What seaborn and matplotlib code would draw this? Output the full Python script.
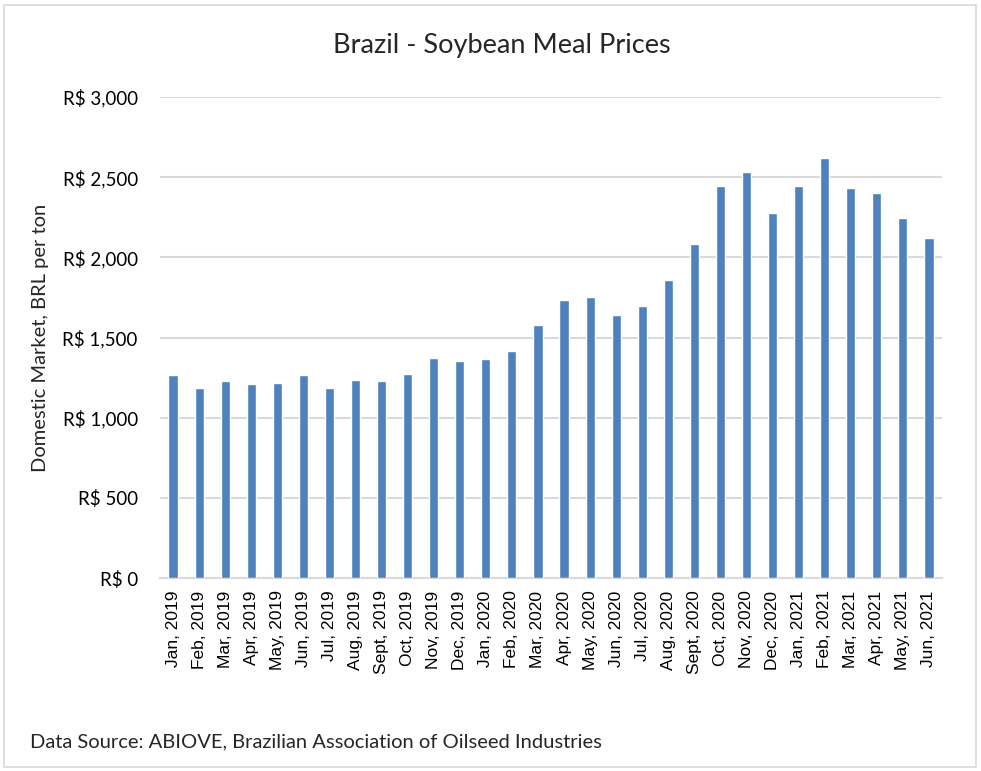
import matplotlib
matplotlib.use("Agg")
import matplotlib.pyplot as plt
import seaborn as sns
import pandas as pd
from matplotlib.ticker import FuncFormatter, MultipleLocator
from matplotlib.patches import Rectangle

months = ["Jan, 2019", "Feb, 2019", "Mar, 2019", "Apr, 2019", "May, 2019", "Jun, 2019",
          "Jul, 2019", "Aug, 2019", "Sept, 2019", "Oct, 2019", "Nov, 2019", "Dec, 2019",
          "Jan, 2020", "Feb, 2020", "Mar, 2020", "Apr, 2020", "May, 2020", "Jun, 2020",
          "Jul, 2020", "Aug, 2020", "Sept, 2020", "Oct, 2020", "Nov, 2020", "Dec, 2020",
          "Jan, 2021", "Feb, 2021", "Mar, 2021", "Apr, 2021", "May, 2021", "Jun, 2021"]
prices = [1265, 1186, 1227, 1212, 1219, 1265, 1186, 1233, 1227, 1271, 1373, 1352,
          1367, 1418, 1579, 1737, 1752, 1643, 1698, 1858, 2085, 2444, 2531, 2277,
          2444, 2619, 2431, 2404, 2246, 2119]

title = "Brazil - Soybean Meal Prices"
ylabel = "Domestic Market, BRL per ton"
source = "Data Source: ABIOVE, Brazilian Association of Oilseed Industries"

df = pd.DataFrame({"month": months, "price": prices})

sns.set_theme(style="white")
plt.rcParams["font.family"] = ["Lato", "DejaVu Sans"]

fig = plt.figure(figsize=(9.81, 7.71), dpi=100)
ax = fig.add_axes([160/981, 1-578/771, 782/981, (578-97)/771])

sns.barplot(data=df, x="month", y="price", order=months, color="#4F81BD",
            width=0.35, saturation=1, ax=ax, zorder=3)

ax.set_ylim(0, 3000)
ax.set_xlim(-0.5, len(months) - 0.5)
ax.yaxis.set_major_locator(MultipleLocator(500))
ax.yaxis.set_major_formatter(FuncFormatter(lambda v, p: f"R$ {int(v):,}"))
ax.grid(axis="y", color="#D9D9D9", linewidth=1.5, zorder=0)
ax.grid(axis="x", visible=False)
for s in ["top", "right", "left"]:
    ax.spines[s].set_visible(False)
ax.spines["bottom"].set_color("#D9D9D9")
ax.spines["bottom"].set_linewidth(1.5)
ax.tick_params(axis="both", length=0, colors="#000000")
ax.tick_params(axis="y", labelsize=13.5, pad=16)
ax.tick_params(axis="x", labelsize=12.5, pad=9)
for lab in ax.get_xticklabels():
    lab.set_rotation(90)
    lab.set_family(["Liberation Sans", "DejaVu Sans"])
ax.set_xlabel("")
ax.set_ylabel(ylabel, fontsize=14.5, labelpad=10)

fig.text(502/981, 1-45/771, title, ha="center", va="center", fontsize=19.5)
fig.text(30/981, 1-742/771, source, ha="left", va="center", fontsize=14.5)

fig.patches.append(Rectangle((4/981, 4/771), 972/981, 762/771, transform=fig.transFigure,
                             fill=False, edgecolor="#D9D9D9", linewidth=1.2))

fig.savefig("out.png", dpi=100, facecolor="white")
